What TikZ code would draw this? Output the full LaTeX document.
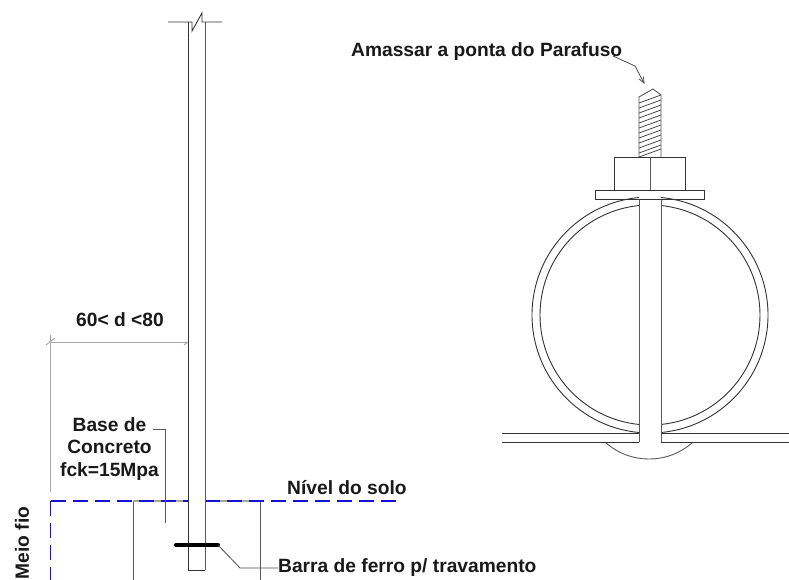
\documentclass[tikz,border=0pt]{standalone}
\usepackage{fontspec}
\setmainfont{Liberation Sans}
\usetikzlibrary{arrows.meta}
\definecolor{dimgray}{HTML}{A8A8A8}
\definecolor{linegray}{HTML}{5A5A5A}
\definecolor{dashblue}{HTML}{1414D2}
\definecolor{olivegray}{HTML}{A8A890}
\tikzset{
  lab/.style={font=\fontsize{19.2}{22.4}\selectfont\bfseries,text=black!90,inner sep=0pt,align=center},
  part/.style={draw=linegray,line width=0.9pt},
  dark/.style={draw=black!80,line width=0.9pt},
  dimline/.style={draw=dimgray,line width=0.9pt},
  leader/.style={draw=black!70,line width=0.8pt},
  soil/.style={draw=dashblue,line width=1.4pt,dash pattern=on 15pt off 7pt},
}
\begin{document}
\begin{tikzpicture}[x=1pt,y=-1pt]
\useasboundingbox[fill=white] (0,0) rectangle (789,580);
% ---- left: foundation
\coordinate (corner) at (50.5,501);
\draw[part] (133,580) -- (133,501);
\draw[part] (260,501) -- (260,580);
\draw[draw=olivegray,line width=1.2pt] (133,501) -- (260,501);
\draw[soil] (corner) -- (50.5,580);
\draw[soil] (corner) -- (398,501);
\draw[dimline] (50.5,492) -- (50.5,335);
\draw[dimline] (50,342) -- (192,342);
\draw[dimline] (46,345) -- (55,338);
\draw[dimline] (184,345) -- (193,338);
% post
\node[draw=none,fill=white,minimum width=17pt,minimum height=548pt,inner sep=0pt,anchor=north west] (post) at (188,22) {};
\draw[dark] (188,22) -- (188,570) -- (205,570);
\draw[part] (205,22) -- (205,570);
\draw[dark] (168,22) -- (192,22) -- (192,31) -- (202,13) -- (202,22) -- (222,22);
% labels
\node[lab] (dim) at (120,320) {60< d <80};
\node[lab] (base) at (109.5,449) {Base de\\Concreto\\fck=15Mpa};
\node[lab,anchor=west] (nivel) at (287,488) {Nível do solo};
\node[lab,rotate=90] (meio) at (22,543) {Meio fio};
\node[lab,anchor=west] (barra) at (278,568) {Barra de ferro p/ travamento};
\node[lab,anchor=west] (amassar) at (351,52) {Amassar a ponta do Parafuso};
% leaders
\coordinate (baseA) at (153,429);
\coordinate (baseB) at (165,523);
\draw[part] (baseA) -- (165,429) -- (baseB);
\draw[line width=4pt,line cap=round,black] (176,545) coordinate (barL) -- (218,545) coordinate (barR);
\draw[leader] (barR) -- (240,568) -- (barra.west);
% ---- right: clamp
\draw[dark] (650,315) circle[radius=118];
\draw[dark] (650,315) circle[radius=110];
\fill[white] (639,190) rectangle (661,442);
\draw[part,fill=white] (605,442) arc[start angle=132.3,end angle=47.7,radius=65.4];
\draw[dark] (502,433) -- (639,433);
\draw[dark] (502,442) -- (639,442);
\draw[dark] (661,433) -- (789,433);
\draw[dark] (661,442) -- (789,442);
\draw[part] (639,199) -- (639,442);
\draw[part] (661,199) -- (661,442);
% bolt tip
\draw[part] (639,157) -- (639,97) -- (653,89) -- (661,95) -- (661,157);
\foreach \yy in {103,108,113,118,123,128,133,138,143,148,153,157}{
  \draw[dark,line width=0.7pt] (639,\yy) -- (661,\yy-8);
}
% nut and washer
\draw[dark] (614.5,157) rectangle (685,190);
\draw[part] (650,157) -- (650,190);
\draw[dark] (595.5,190) rectangle (704.5,199);
% bolt leader
\coordinate (tipArrow) at (644.5,84);
\draw[leader,-{Straight Barb[length=6pt,width=5pt]}] (613,56) -- (635,66) -- (tipArrow);
\end{tikzpicture}
\end{document}
